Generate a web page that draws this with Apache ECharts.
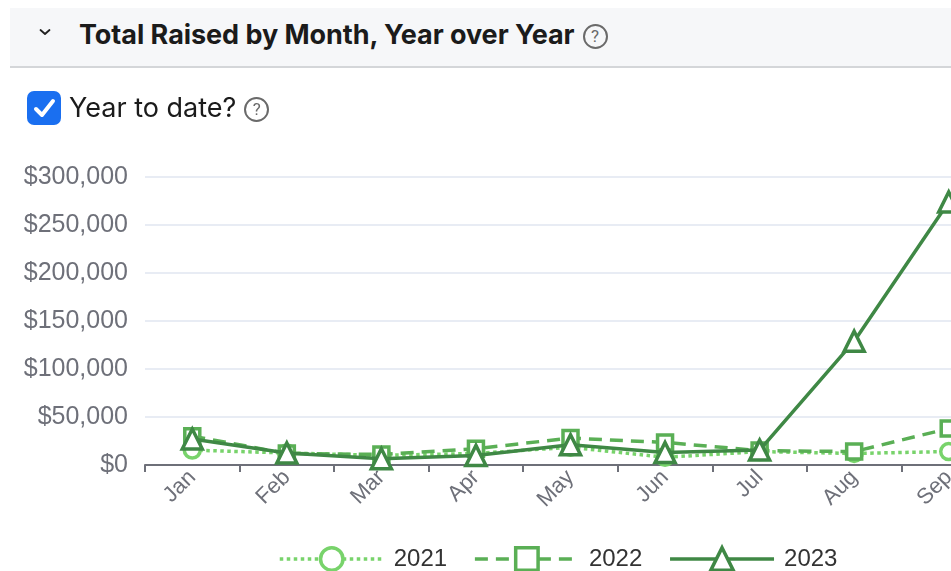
<!DOCTYPE html>
<html>
<head>
<meta charset="utf-8">
<script src="https://cdn.jsdelivr.net/npm/echarts@6/dist/echarts.min.js"></script>
<style>
  html, body { margin: 0; padding: 0; width: 951px; height: 571px; overflow: hidden; background: #fff; font-family: Inter, Roboto, "Liberation Sans", sans-serif; }
  #header { position: absolute; left: 10px; top: 8px; width: 941px; height: 58px; background: #f6f7f9; border-bottom: 2px solid #d4d6d9; }
  #chev { position: absolute; left: 28px; top: 19px; }
  #title { position: absolute; left: 69px; top: 9px; font-size: 27px; line-height: 36px; font-weight: 700; color: #1b1b1b; white-space: nowrap; letter-spacing: -0.05px; }
  .q { display: inline-block; width: 21px; height: 21px; border: 2px solid #6a6a6a; border-radius: 50%; font-size: 17px; line-height: 21px; text-align: center; color: #6a6a6a; font-weight: 400; vertical-align: 2px; margin-left: 8px; box-sizing: content-box; letter-spacing: 0; font-family: Roboto, sans-serif; }
  #cb { position: absolute; left: 27px; top: 91px; width: 34px; height: 34px; background: #1a6ff0; border-radius: 7px; }
  #ytd { position: absolute; left: 69px; top: 90px; font-size: 27px; line-height: 36px; color: #1b1b1b; white-space: nowrap; font-weight: 400; letter-spacing: 0; }
  #chart { position: absolute; left: 0; top: 0; width: 1000px; height: 571px; }
</style>
</head>
<body>
<div id="chart"></div>
<div id="header"><svg id="chev" width="14" height="10" viewBox="0 0 14 10"><path d="M2.5 3 L7 7 L11.5 3" stroke="#222" stroke-width="1.8" fill="none" stroke-linecap="round" stroke-linejoin="round"/></svg><span id="title">Total Raised by Month, Year over Year<span class="q">?</span></span></div>
<div id="cb"><svg width="34" height="34" viewBox="0 0 34 34"><path d="M9 18 L15 24 L26 10" stroke="#fff" stroke-width="4" fill="none" stroke-linecap="round" stroke-linejoin="round"/></svg></div>
<div id="ytd">Year to date?<span class="q">?</span></div>
<script>
const months = ['Jan', 'Feb', 'Mar', 'Apr', 'May', 'Jun', 'Jul', 'Aug', 'Sep'];
const years = ['2021', '2022', '2023'];
const values2021 = [15500, 12500, 10000, 12000, 18500, 8000, 14000, 12000, 14000];
const values2022 = [30000, 12000, 11000, 17000, 28000, 23500, 15000, 14000, 38000];
const values2023 = [27000, 12500, 6500, 10000, 21000, 13000, 15500, 129000, 274000];
const yTicks = [0, 50000, 100000, 150000, 200000, 250000, 300000];

const chart = echarts.init(document.getElementById('chart'), null, { renderer: 'canvas' });

function mk(name, data, color, type, symbol, size, z) {
  return {
    name: name, type: 'line', data: data, z: z,
    symbol: symbol, symbolSize: size, showAllSymbol: true,
    lineStyle: { color: color, width: 3.5, type: type },
    itemStyle: { color: '#ffffff', borderColor: color, borderWidth: 3.5 },
    emphasis: { disabled: true }
  };
}

chart.setOption({
  animation: false,
  grid: { left: 145, right: 4, top: 177, bottom: 106, containLabel: false },
  legend: {
    left: 278, top: 546, padding: 0,
    itemWidth: 104, itemHeight: 28, itemGap: 26,
    lineStyle: { width: 3.5 },
    itemStyle: { borderWidth: 3.5 },
    textStyle: { fontSize: 24, color: '#333', fontFamily: '"Liberation Sans", Arial, sans-serif', padding: [0, 0, 0, 5] },
    data: years
  },
  xAxis: {
    type: 'category', data: months, boundaryGap: true,
    axisLine: { lineStyle: { color: '#6e7079', width: 2 } },
    axisTick: { show: true, length: 7, lineStyle: { color: '#6e7079', width: 2 } },
    axisLabel: { rotate: 45, fontSize: 22, color: '#6e7079', margin: 9, fontFamily: '"Liberation Sans", Arial, sans-serif' }
  },
  yAxis: {
    type: 'value', min: yTicks[0], max: yTicks[yTicks.length - 1], interval: yTicks[1] - yTicks[0],
    axisLine: { show: false }, axisTick: { show: false },
    splitLine: { lineStyle: { color: '#e0e6f1', width: 1.5 } },
    axisLabel: {
      fontSize: 25, color: '#6e7079', margin: 17, fontFamily: '"Liberation Sans", Arial, sans-serif',
      formatter: function (v) { return '$' + v.toLocaleString('en-US'); }
    }
  },
  series: [
    mk(years[0], values2021, '#78d36b', 'dotted', 'circle', 16, 2),
    mk(years[1], values2022, '#5aaf55', [13, 8], 'rect', 15, 3),
    mk(years[2], values2023, '#3f8845', 'solid', 'triangle', 20, 4)
  ]
});
</script>
</body>
</html>
